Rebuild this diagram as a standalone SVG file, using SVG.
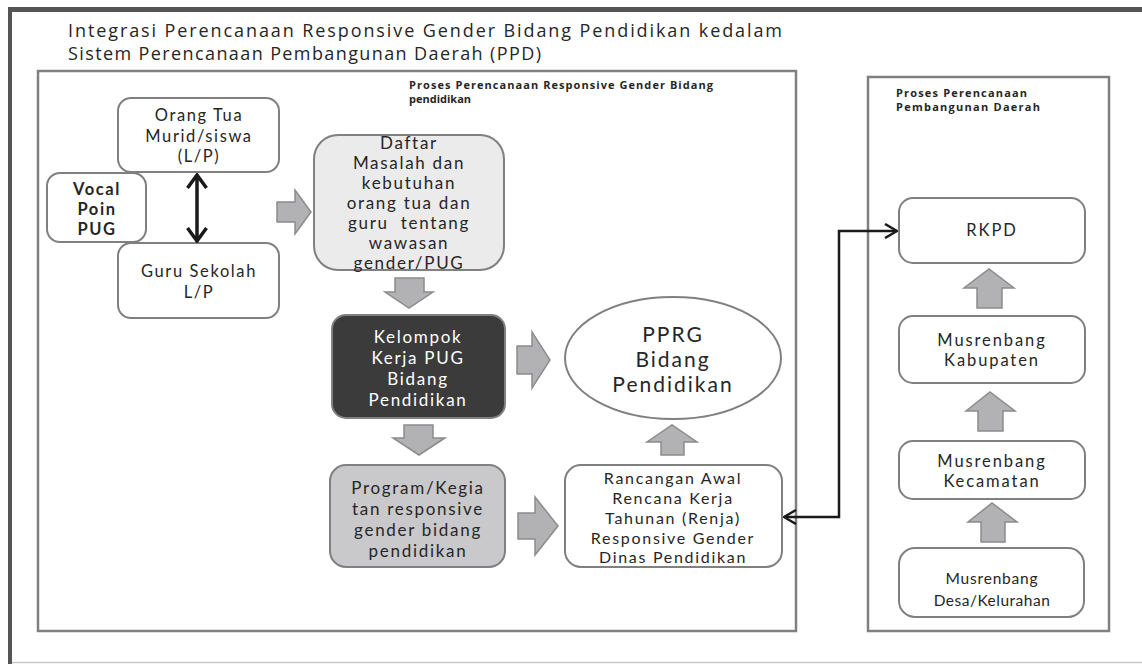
<svg xmlns="http://www.w3.org/2000/svg" width="1142" height="664" viewBox="0 0 1142 664">
<style>
.t{font-family:Lato,"Open Sans","Liberation Sans",sans-serif;fill:#262626;text-anchor:middle}
.n16{font-size:16.5px;letter-spacing:1.6px}
.n17{font-size:17px;letter-spacing:1.7px}
.r16{font-size:16.5px;letter-spacing:1.9px}
.rc{font-size:16px;letter-spacing:1.7px}
.box{fill:#fff;stroke:#808080;stroke-width:2}
.panel{fill:#fff;stroke:#808080;stroke-width:2.5}
.blk{fill:#b2b2b5;stroke:#8c8c8c;stroke-width:1.5}
.con{fill:none;stroke:#1a1a1a;stroke-width:2.5}
.hd{font-family:"Open Sans","Liberation Sans",sans-serif;font-size:11px;font-weight:bold;fill:#262626}
.tt{font-family:"Open Sans","Liberation Sans",sans-serif;font-size:18px;fill:#262626}
</style>
<defs>
<marker id="ah" viewBox="0 0 14 16" refX="13" refY="8" markerWidth="14" markerHeight="16" markerUnits="userSpaceOnUse" orient="auto-start-reverse">
<path d="M1 1 L13 8 L1 15" fill="none" stroke="#1a1a1a" stroke-width="2.5"/>
</marker>
<marker id="ah2" viewBox="0 0 16 22" refX="14" refY="11" markerWidth="16" markerHeight="22" markerUnits="userSpaceOnUse" orient="auto-start-reverse">
<path d="M1 1.5 L14 11 L1 20.5" fill="none" stroke="#1a1a1a" stroke-width="3.5"/>
</marker>
</defs>
<rect x="0" y="0" width="1142" height="664" fill="#fff"/>
<g id="frame">
<rect x="8" y="7" width="1134" height="5" fill="#555"/>
<rect x="8" y="7" width="4" height="657" fill="#555"/>
<line x1="12" y1="662.5" x2="1142" y2="662.5" stroke="#c8c8c8" stroke-width="1.5"/>
</g>
<g id="title">
<text class="tt" x="68" y="37" textLength="714">Integrasi Perencanaan Responsive Gender Bidang Pendidikan kedalam</text>
<text class="tt" x="68" y="60" textLength="473">Sistem Perencanaan Pembangunan Daerah (PPD)</text>
</g>
<g id="panel-left">
<rect class="panel" x="38" y="71" width="758" height="560"/>
<text class="hd" x="409" y="89" textLength="304">Proses Perencanaan Responsive Gender Bidang</text>
<text class="hd" x="409" y="103">pendidikan</text>
</g>
<g id="panel-right">
<rect class="panel" x="868" y="77" width="241" height="554"/>
<text class="hd" x="896" y="97" textLength="131">Proses Perencanaan</text>
<text class="hd" x="896" y="111" textLength="144">Pembangunan Daerah</text>
</g>
<g id="node-orangtua">
<rect class="box" x="118" y="98" width="161" height="74" rx="13"/>
<text class="t n16" x="199" y="121">Orang Tua</text>
<text class="t n16" x="199" y="142">Murid/siswa</text>
<text class="t n16" x="199" y="162">(L/P)</text>
</g>
<g id="node-vocal">
<rect class="box" x="47" y="173" width="99" height="69" rx="13"/>
<text class="t n16" x="97" y="195" font-weight="bold">Vocal</text>
<text class="t n16" x="97" y="215" font-weight="bold">Poin</text>
<text class="t n16" x="97" y="235" font-weight="bold">PUG</text>
</g>
<g id="node-guru">
<rect class="box" x="118" y="243" width="161" height="75" rx="13"/>
<text class="t n16" x="199" y="277">Guru Sekolah</text>
<text class="t n16" x="199" y="298">L/P</text>
</g>
<g id="node-daftar">
<rect x="314" y="135" width="190" height="135" rx="24" fill="#ebebec" stroke="#808080" stroke-width="2"/>
<text class="t n17" x="409" y="149">Daftar</text>
<text class="t n17" x="409" y="169">Masalah dan</text>
<text class="t n17" x="409" y="189">kebutuhan</text>
<text class="t n17" x="409" y="209">orang tua dan</text>
<text class="t n17" x="409" y="229" xml:space="preserve">guru  tentang</text>
<text class="t n17" x="409" y="249">wawasan</text>
<text class="t n17" x="409" y="269">gender/PUG</text>
</g>
<g id="node-kelompok">
<rect x="332" y="315" width="173" height="103" rx="14" fill="#3b3b3b" stroke="#808080" stroke-width="2"/>
<text class="t n17" x="418" y="343" style="fill:#fff">Kelompok</text>
<text class="t n17" x="418" y="364" style="fill:#fff">Kerja PUG</text>
<text class="t n17" x="418" y="385" style="fill:#fff">Bidang</text>
<text class="t n17" x="418" y="406" style="fill:#fff">Pendidikan</text>
</g>
<g id="node-pprg">
<ellipse cx="673" cy="358" rx="108" ry="61" fill="#fff" stroke="#808080" stroke-width="2"/>
<text class="t" x="673" y="342" font-size="21" letter-spacing="2">PPRG</text>
<text class="t" x="673" y="367" font-size="21" letter-spacing="2">Bidang</text>
<text class="t" x="673" y="392" font-size="21" letter-spacing="2">Pendidikan</text>
</g>
<g id="node-program">
<rect x="330" y="465" width="175" height="102" rx="16" fill="#c9c9cb" stroke="#808080" stroke-width="2"/>
<text class="t n17" x="418" y="494">Program/Kegia</text>
<text class="t n17" x="418" y="515">tan responsive</text>
<text class="t n17" x="418" y="536">gender bidang</text>
<text class="t n17" x="418" y="557">pendidikan</text>
</g>
<g id="node-rancangan">
<rect class="box" x="565" y="465" width="217" height="102" rx="16"/>
<text class="t rc" x="673" y="484">Rancangan Awal</text>
<text class="t rc" x="673" y="504">Rencana Kerja</text>
<text class="t rc" x="673" y="524">Tahunan (Renja)</text>
<text class="t rc" x="673" y="544">Responsive Gender</text>
<text class="t rc" x="673" y="563">Dinas Pendidikan</text>
</g>
<g id="node-rkpd">
<rect class="box" x="899" y="198" width="186" height="65" rx="14"/>
<text class="t r16" x="992" y="236">RKPD</text>
</g>
<g id="node-kabupaten">
<rect class="box" x="899" y="316" width="186" height="67" rx="14"/>
<text class="t r16" x="992" y="346">Musrenbang</text>
<text class="t r16" x="992" y="366">Kabupaten</text>
</g>
<g id="node-kecamatan">
<rect class="box" x="899" y="441" width="186" height="58" rx="14"/>
<text class="t r16" x="992" y="467">Musrenbang</text>
<text class="t r16" x="992" y="487">Kecamatan</text>
</g>
<g id="node-desa">
<rect class="box" x="899" y="548" width="185" height="69" rx="16"/>
<text class="t" x="992" y="584" font-size="15.5" letter-spacing="0.8">Musrenbang</text>
<text class="t" x="992" y="606" font-size="15.5" letter-spacing="0.5">Desa/Kelurahan</text>
</g>
<g id="connectors">
<line class="con" x1="197" y1="175" x2="197" y2="241" style="stroke-width:3.5" marker-start="url(#ah2)" marker-end="url(#ah2)"/>
<path class="con" d="M784 517 H839 V231 H897" marker-start="url(#ah)" marker-end="url(#ah)"/>
<polygon class="blk" points="277,202 295,202 295,190 311,212 295,234 295,222 277,222"/>
<polygon class="blk" points="395,278 424,278 424,292 433,292 409,308 385,292 395,292"/>
<polygon class="blk" points="517,346 532,346 532,332 550,360 532,388 532,374 517,374"/>
<polygon class="blk" points="404,425 433,425 433,438 445,438 419,455 393,438 404,438"/>
<polygon class="blk" points="518,513 535,513 535,497 558,526 535,555 535,539 518,539"/>
<polygon class="blk" points="661,455 684,455 684,442 697,442 672,425 647,442 661,442"/>
<polygon class="blk" points="977,308 1002,308 1002,288 1014,288 989,269 964,288 977,288"/>
<polygon class="blk" points="978,431 1003,431 1003,411 1015,411 990,392 966,411 978,411"/>
<polygon class="blk" points="981,542 1005,542 1005,522 1017,522 992,503 968,522 981,522"/>
</g>
</svg>
